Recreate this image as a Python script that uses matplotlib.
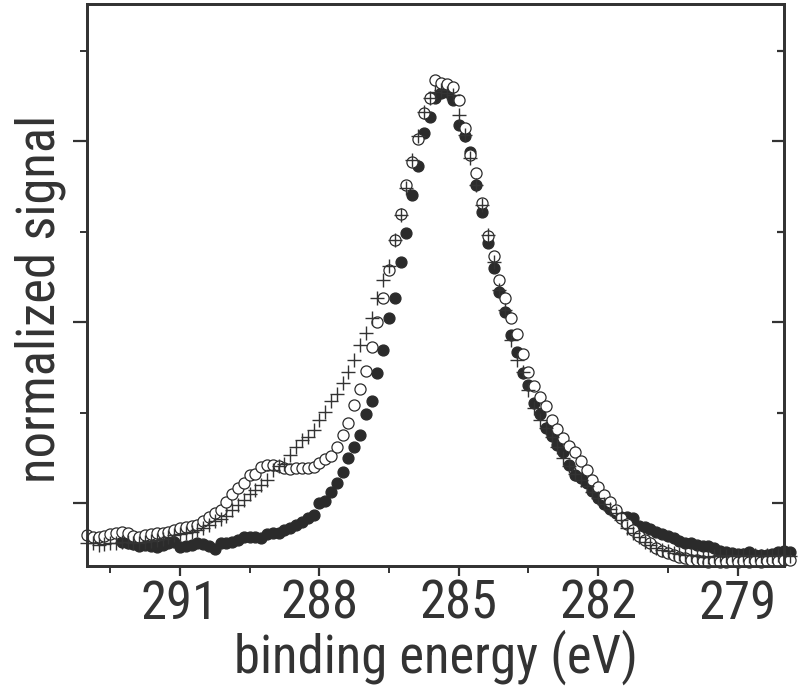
import numpy as np
import matplotlib
matplotlib.use("Agg")
import matplotlib.pyplot as plt
from matplotlib import font_manager

# binding energy grid (eV), 0.125 eV steps from 293 eV down
energy = 293.0 - 0.125 * np.arange(122)

# filled circles (start at 292.25 eV)
filled = [
    11.4, 11.2, 10.9, 10.5, 10.7, 10.5, 10.3, 10.7, 11.2, 11.4,
    10.3, 10.5, 10.7, 11.2, 10.9, 10.5, 9.8, 11.2, 11.2, 11.4,
    11.8, 12.5, 12.5, 12.5, 12.3, 13.1, 13.4, 13.4, 14.0, 14.5,
    15.1, 15.8, 16.7, 17.3, 20.0, 20.4, 22.4, 24.4, 26.9, 29.9,
    32.4, 35.0, 39.7, 42.5, 48.7, 53.8, 60.9, 65.3, 73.3, 79.7,
    88.1, 94.5, 101.8, 105.3, 109.5, 110.6, 110.8, 109.1, 103.5, 101.1,
    97.6, 90.3, 84.3, 77.5, 71.9, 66.6, 62.2, 57.1, 53.4, 48.7,
    46.1, 42.1, 39.7, 36.6, 34.8, 32.8, 31.3, 28.4, 26.2, 25.5,
    24.4, 22.6, 21.1, 19.8, 18.7, 17.8, 16.9, 16.9, 16.7, 14.9,
    14.7, 14.3, 13.6, 13.1, 12.7, 12.3, 11.6, 11.2, 11.2, 10.7,
    10.5, 10.5, 10.0, 9.4, 9.2, 9.0, 8.7, 8.7, 9.2, 8.5,
    8.5, 8.5, 8.7, 9.2, 9.4, 9.2,
]

# open circles
hollow = [
    12.9, 12.5, 12.5, 12.7, 13.1, 13.4, 13.6, 13.4, 12.7, 12.5,
    12.9, 13.1, 13.4, 13.4, 13.6, 14.0, 14.5, 14.7, 14.9, 15.1,
    16.0, 16.9, 17.8, 18.5, 20.2, 22.0, 23.3, 24.4, 26.2, 26.4,
    28.0, 28.4, 28.4, 28.2, 27.7, 27.5, 27.7, 27.7, 27.7, 28.0,
    28.8, 29.7, 30.4, 32.4, 35.0, 37.7, 41.7, 45.2, 49.2, 54.5,
    60.0, 65.3, 71.5, 78.1, 83.9, 90.3, 95.4, 100.4, 106.2, 109.5,
    113.5, 112.8, 112.6, 111.9, 109.1, 102.9, 96.9, 92.9, 86.3, 79.0,
    74.6, 69.3, 65.3, 60.9, 57.3, 52.9, 49.0, 45.9, 43.4, 41.4,
    38.3, 36.3, 34.4, 32.6, 31.3, 29.3, 27.3, 25.1, 23.5, 21.8,
    20.2, 18.5, 16.7, 15.4, 14.0, 12.7, 11.8, 11.2, 10.0, 9.4,
    9.0, 8.5, 8.1, 7.8, 7.4, 7.4, 7.2, 7.0, 7.2, 7.0,
    7.0, 7.2, 7.0, 7.2, 7.0, 7.2, 7.0, 7.2, 7.4, 7.2,
    7.4, 7.4,
]

# plus markers
cross = [
    11.2, 11.2, 10.7, 10.9, 11.2, 11.2, 11.4, 11.4, 11.2, 11.2,
    11.4, 11.6, 11.8, 12.0, 12.5, 12.9, 13.1, 13.4, 13.6, 14.0,
    14.5, 15.1, 16.0, 16.5, 17.1, 18.5, 19.6, 20.7, 22.0, 22.9,
    24.0, 25.1, 27.3, 28.2, 28.6, 30.6, 32.4, 33.9, 34.6, 36.1,
    38.3, 40.1, 42.5, 44.1, 46.5, 49.0, 51.6, 54.9, 57.6, 60.9,
    65.3, 69.3, 72.4, 78.1, 83.6, 89.6, 95.8, 101.1, 106.4, 109.5,
    110.8, 111.3, 110.6, 110.2, 105.7, 101.3, 96.2, 90.3, 85.9, 79.2,
    73.3, 67.1, 62.7, 56.0, 51.6, 49.0, 45.0, 41.0, 38.3, 36.6,
    34.6, 32.4, 29.9, 28.2, 26.4, 25.1, 23.8, 22.4, 21.1, 19.8,
    18.7, 17.8, 16.2, 14.5, 13.4, 12.5, 11.4, 10.7, 10.0, 9.6,
    9.4, 9.0, 8.7, 8.5, 8.5, 8.3, 8.1, 8.1, 8.3, 8.5,
    8.3, 8.5, 8.3, 8.5, 8.3, 8.5, 8.3, 8.5, 8.3, 8.5,
    8.5, 8.3,
]

xticks = [291, 288, 285, 282, 279]
xminor = [292.5, 289.5, 286.5, 283.5, 280.5]
yticks = [20, 60, 100]
yminor = [40, 80, 120]

ink = "#333333"

# narrow sans if one is around, else plain Liberation Sans
installed = {f.name for f in font_manager.fontManager.ttflist}
narrow = [n for n in ("Liberation Sans Narrow", "Roboto Condensed",
                      "Open Sans Condensed", "DejaVu Sans Condensed")
          if n in installed]
if narrow:
    plt.rcParams["font.family"] = [narrow[0], "DejaVu Sans"]
    fs = 38
else:
    plt.rcParams["font.family"] = ["Liberation Sans", "DejaVu Sans"]
    fs = 34

fig = plt.figure(figsize=(8.0, 6.94), dpi=100)
ax = fig.add_axes([0.10875, 0.1844, 0.87125, 0.8098])

ax.plot(energy[6:], filled, ls="none", marker="o", ms=7.8, mfc="#2b2b2b",
        mec="#2b2b2b", clip_on=False, zorder=3)
ax.plot(energy, hollow, ls="none", marker="o", ms=8.0, mfc="white",
        mec="#2b2b2b", mew=0.9, clip_on=False, zorder=4)
ax.plot(energy, cross, ls="none", marker="+", ms=9.5, mec="#333333",
        mew=1.0, clip_on=False, zorder=5)

ax.set_xlim(293, 278)
ax.set_ylim(6.08, 130.3)

ax.set_xticks(xticks)
ax.set_xticks(xminor, minor=True)
ax.set_yticks(yticks)
ax.set_yticks(yminor, minor=True)
ax.set_yticklabels([])

ax.tick_params(axis="x", which="major", direction="out", length=7, width=1.6,
               color=ink, labelsize=fs, labelcolor=ink, pad=2, top=False)
ax.tick_params(axis="x", which="minor", direction="out", length=5, width=1.4,
               color=ink, top=False)
ax.tick_params(axis="y", which="major", direction="out", length=10, width=1.6,
               color=ink, right=False)
ax.tick_params(axis="y", which="minor", direction="out", length=5, width=1.4,
               color=ink, right=False)

# inward ticks on the right spine
ax2 = ax.twinx()
ax2.set_ylim(ax.get_ylim())
ax2.set_yticks(yticks)
ax2.set_yticks(yminor, minor=True)
ax2.set_yticklabels([])
ax2.tick_params(axis="y", which="both", direction="in", length=9, width=1.6,
                color=ink)
ax2.tick_params(axis="y", which="minor", length=5)

for a in (ax, ax2):
    for s in a.spines.values():
        s.set_color(ink)
        s.set_linewidth(2.0)

ax.set_xlabel("binding energy (eV)", fontsize=fs, color=ink, labelpad=0)
ax.set_ylabel("normalized signal", fontsize=fs, color=ink)
ax.yaxis.set_label_coords(-0.03, 0.475)

fig.savefig("out.png", dpi=100)
